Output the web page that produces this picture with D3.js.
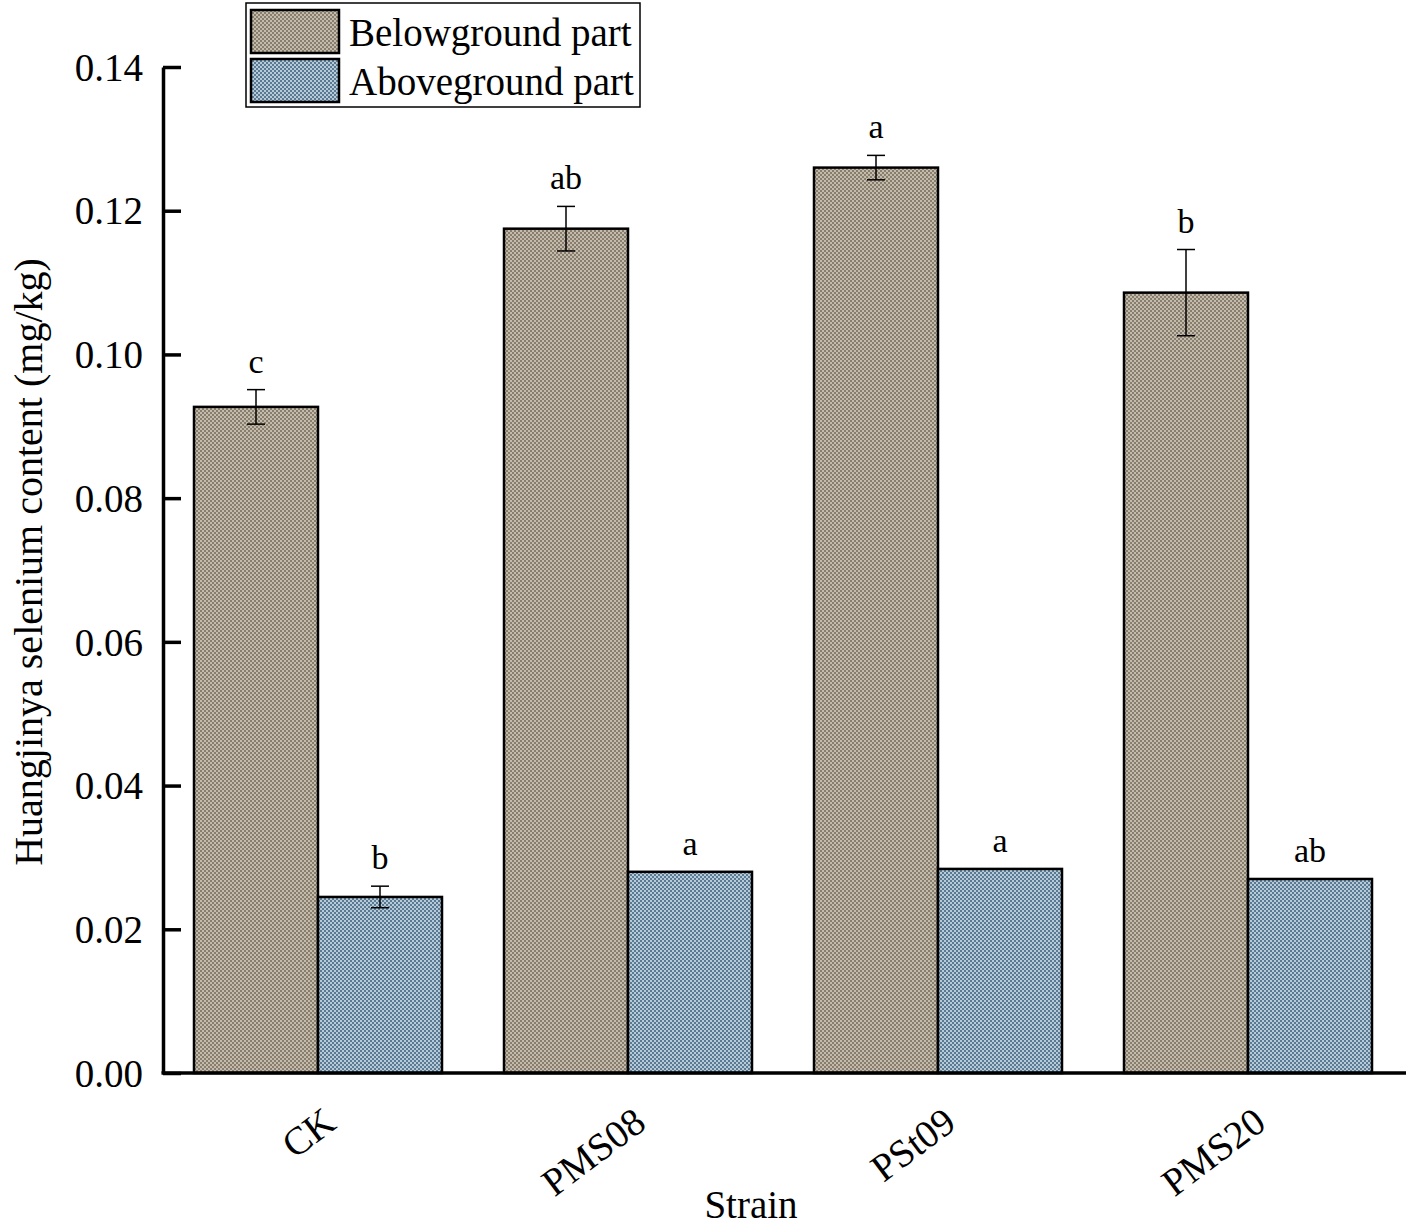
<!DOCTYPE html>
<html>
<head>
<meta charset="utf-8">
<script src="https://cdn.jsdelivr.net/npm/d3@7"></script>
<style>
  html, body { margin: 0; padding: 0; background: #fff; }
  svg { display: block; font-family: "Liberation Serif", "Times New Roman", serif; }
</style>
</head>
<body>
<svg id="chart" width="1406" height="1227"></svg>
<script>
const categories = ["CK", "PMS08", "PSt09", "PMS20"];
const seriesNames = ["Belowground part", "Aboveground part"];
const belowValues = [0.0927, 0.1175, 0.1260, 0.1086];
const belowErrors = [0.0024, 0.0031, 0.0017, 0.0060];
const belowLetters = ["c", "ab", "a", "b"];
const aboveValues = [0.0245, 0.0280, 0.0284, 0.0270];
const aboveErrors = [0.0015, 0, 0, 0];
const aboveLetters = ["b", "a", "a", "ab"];
const yTicks = [0, 0.02, 0.04, 0.06, 0.08, 0.10, 0.12, 0.14];

(function () {
const svg = d3.select("#chart");
const mLeft = 163, mRight = 1403, mTop = 67, mBottom = 1073;

// patterns
const defs = svg.append("defs");
function checker(id, dark, light, mid) {
  const p = defs.append("pattern").attr("id", id).attr("patternUnits", "userSpaceOnUse")
    .attr("width", 4).attr("height", 4);
  p.append("rect").attr("width", 4).attr("height", 4).attr("fill", mid);
  p.append("rect").attr("x", 0).attr("y", 0).attr("width", 2).attr("height", 2).attr("fill", dark);
  p.append("rect").attr("x", 2).attr("y", 2).attr("width", 2).attr("height", 2).attr("fill", dark);
  p.append("rect").attr("x", 2).attr("y", 0).attr("width", 2).attr("height", 2).attr("fill", light);
  p.append("rect").attr("x", 0).attr("y", 2).attr("width", 2).attr("height", 2).attr("fill", light);
}
checker("patBelow", "#877e6f", "#c4bbaa", "#a49b8b");
checker("patAbove", "#5a7a94", "#b6cad8", "#88a2b6");
const fills = ["url(#patBelow)", "url(#patAbove)"];

const x = d3.scaleBand().domain(categories).range([mLeft, mRight]).paddingInner(0.2).paddingOuter(0.1);
const xInner = d3.scaleBand().domain(seriesNames).range([0, x.bandwidth()]).padding(0);
const y = d3.scaleLinear().domain([0, 0.14]).range([mBottom, mTop]);

const data = categories.map((c, i) => ({
  cat: c,
  items: [
    { s: seriesNames[0], v: belowValues[i], e: belowErrors[i], l: belowLetters[i] },
    { s: seriesNames[1], v: aboveValues[i], e: aboveErrors[i], l: aboveLetters[i] }
  ]
}));

const groups = svg.append("g").selectAll("g").data(data).join("g")
  .attr("transform", d => `translate(${x(d.cat)},0)`);

groups.selectAll("rect").data(d => d.items).join("rect")
  .attr("x", d => xInner(d.s))
  .attr("y", d => y(d.v))
  .attr("width", xInner.bandwidth())
  .attr("height", d => y(0) - y(d.v))
  .attr("fill", (d, i) => fills[i])
  .attr("stroke", "#000").attr("stroke-width", 2.5);

// error bars
const eb = groups.selectAll("g.err").data(d => d.items.filter(it => it.e > 0)).join("g").attr("class", "err");
const cx = d => xInner(d.s) + xInner.bandwidth() / 2;
eb.append("line").attr("x1", cx).attr("x2", cx).attr("y1", d => y(d.v + d.e)).attr("y2", d => y(d.v - d.e))
  .attr("stroke", "#000").attr("stroke-width", 1.5);
eb.append("line").attr("x1", d => cx(d) - 9).attr("x2", d => cx(d) + 9).attr("y1", d => y(d.v + d.e)).attr("y2", d => y(d.v + d.e))
  .attr("stroke", "#000").attr("stroke-width", 1.5);
eb.append("line").attr("x1", d => cx(d) - 9).attr("x2", d => cx(d) + 9).attr("y1", d => y(d.v - d.e)).attr("y2", d => y(d.v - d.e))
  .attr("stroke", "#000").attr("stroke-width", 1.5);

// letters
groups.selectAll("text.sig").data(d => d.items).join("text").attr("class", "sig")
  .attr("x", cx).attr("y", d => y(d.v + d.e) - 17)
  .attr("text-anchor", "middle").attr("font-size", 34).attr("fill", "#000")
  .text(d => d.l);

// y axis
const yAxis = d3.axisLeft(y).tickValues(yTicks).tickFormat(d3.format(".2f")).tickSizeInner(-18).tickSizeOuter(0).tickPadding(20);
const gy = svg.append("g").attr("transform", `translate(${mLeft},0)`).call(yAxis);
gy.select(".domain").attr("stroke", "#000").attr("stroke-width", 3.5);
gy.selectAll(".tick line").attr("stroke", "#000").attr("stroke-width", 3.5);
gy.selectAll(".tick text").attr("font-size", 39).attr("font-family", "Liberation Serif, serif").attr("fill", "#000").attr("dy", "0.34em");

// x axis
const xAxis = d3.axisBottom(x).tickSize(0).tickSizeOuter(0).tickPadding(0);
const gx = svg.append("g").attr("transform", `translate(0,${mBottom})`).call(xAxis);
gx.select(".domain").attr("stroke", "#000").attr("stroke-width", 3.5).attr("d", `M${mLeft - 1.5},0H1406`);
gx.selectAll(".tick text")
  .attr("font-size", 39).attr("font-family", "Liberation Serif, serif").attr("fill", "#000")
  .attr("text-anchor", "end").attr("dy", 0).attr("y", 0)
  .attr("transform", "translate(20,54) rotate(-37)");

// axis titles
svg.append("text").attr("transform", `translate(42,${(mTop + mBottom) / 2 - 8}) rotate(-90)`)
  .attr("text-anchor", "middle").attr("font-size", 40).attr("fill", "#000")
  .text("Huangjinya selenium content (mg/kg)");
svg.append("text").attr("x", 751).attr("y", 1218)
  .attr("text-anchor", "middle").attr("font-size", 39).attr("fill", "#000").text("Strain");

// legend
const lg = svg.append("g");
lg.append("rect").attr("x", 246).attr("y", 3).attr("width", 394).attr("height", 104)
  .attr("fill", "#fff").attr("stroke", "#000").attr("stroke-width", 1.5);
seriesNames.forEach((s, i) => {
  lg.append("rect").attr("x", 251).attr("y", 10 + i * 49).attr("width", 88).attr("height", 43)
    .attr("fill", fills[i]).attr("stroke", "#000").attr("stroke-width", 2.5);
  lg.append("text").attr("x", 349).attr("y", 46 + i * 49).attr("font-size", 39).attr("fill", "#000").text(s);
});
})();
</script>
</body>
</html>
